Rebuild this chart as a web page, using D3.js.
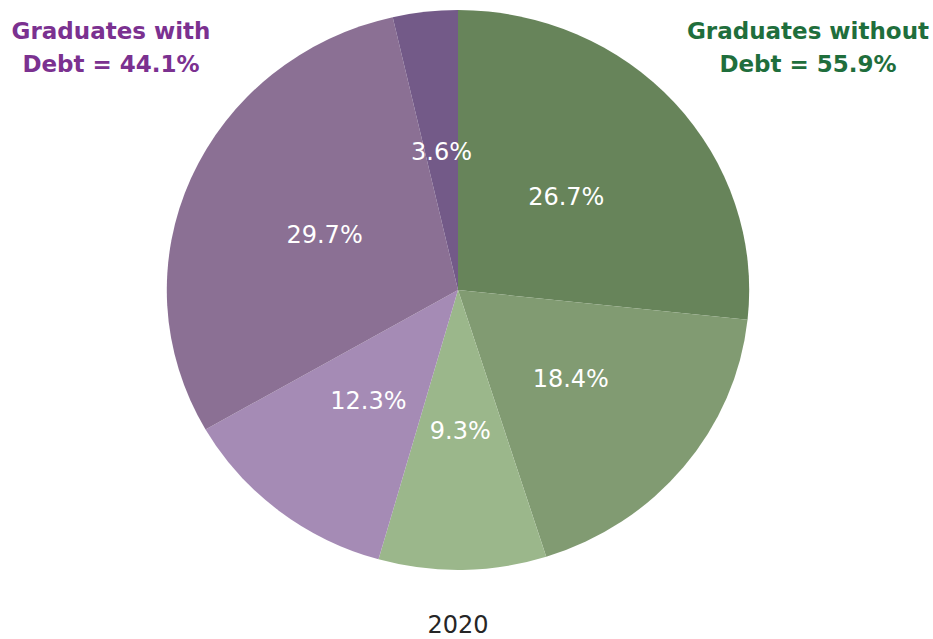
<!DOCTYPE html>
<html>
<head>
<meta charset="utf-8">
<script src="https://cdn.jsdelivr.net/npm/d3@7"></script>
<style>
    body { margin: 0; background: #fff; }
    text { font-family: Verdana, "DejaVu Sans", sans-serif; }
</style>
</head>
<body>
<div id="chart"></div>
<script>
// slices clockwise from 12 o'clock
var sliceLabels = ["26.7%", "18.4%", "9.3%", "12.3%", "29.7%", "3.6%"];
var sliceValues = [26.7, 18.4, 9.3, 12.3, 29.7, 3.6];
var sliceColors = ["#67845a", "#819b72", "#9bb78b", "#a58bb5", "#8b7094", "#735a88"];
var yearLabel = "2020";
var withDebtTitle = ["Graduates with", "Debt = 44.1%"];
var withoutDebtTitle = ["Graduates without", "Debt = 55.9%"];

var width = 933;
var height = 639;
var cx = 458;
var cy = 290;
var radius = 280;
var stretchX = 1.04;

var svg = d3.select("#chart").append("svg")
    .attr("width", width)
    .attr("height", height);

var data = sliceValues.map(function (v, i) {
    return { value: v, label: sliceLabels[i], color: sliceColors[i] };
});

var pie = d3.pie()
    .value(function (d) { return d.value; })
    .sort(null);

var arc = d3.arc()
    .innerRadius(0)
    .outerRadius(radius);

var arcs = pie(data);

svg.append("g")
    .attr("transform", "translate(" + cx + "," + cy + ") scale(" + stretchX + ",1)")
    .selectAll("path")
    .data(arcs)
    .enter()
    .append("path")
    .attr("d", arc)
    .attr("fill", function (d) { return d.data.color; });

svg.append("g")
    .attr("transform", "translate(" + cx + "," + cy + ")")
    .selectAll("text")
    .data(arcs)
    .enter()
    .append("text")
    .attr("x", function (d) { return arc.centroid(d)[0] * stretchX; })
    .attr("y", function (d) { return arc.centroid(d)[1]; })
    .attr("dy", "0.36em")
    .attr("text-anchor", "middle")
    .attr("fill", "#fff")
    .style("font-size", "24px")
    .text(function (d) { return d.data.label; });

function title(lines, x, color) {
    svg.append("g").selectAll("text")
        .data(lines)
        .enter()
        .append("text")
        .attr("x", x)
        .attr("y", function (d, i) { return 39 + i * 33; })
        .attr("text-anchor", "middle")
        .attr("fill", color)
        .style("font-size", "23px")
        .style("font-weight", "bold")
        .text(function (d) { return d; });
}

title(withDebtTitle, 111, "#7b3190");
title(withoutDebtTitle, 808, "#1f6e3c");

svg.append("text")
    .attr("x", cx)
    .attr("y", 633)
    .attr("text-anchor", "middle")
    .attr("fill", "#262626")
    .style("font-size", "24px")
    .text(yearLabel);
</script>
</body>
</html>
